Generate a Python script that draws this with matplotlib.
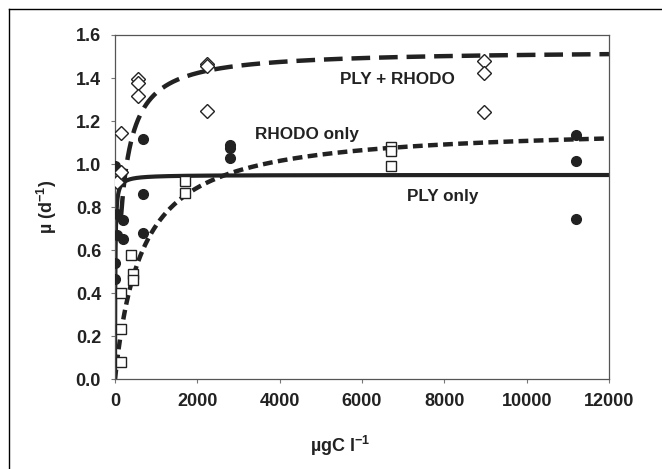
import numpy as np
import matplotlib
matplotlib.use('Agg')
import matplotlib.pyplot as plt
from matplotlib.lines import Line2D

plt.rcParams['font.family'] = ['Liberation Sans', 'DejaVu Sans']
plt.rcParams['mathtext.fontset'] = 'custom'
plt.rcParams['mathtext.rm'] = 'Liberation Sans:bold'
plt.rcParams['mathtext.it'] = 'Liberation Sans:bold'
plt.rcParams['mathtext.bf'] = 'Liberation Sans:bold'

# PLY only (filled circles)
ply_x = [0, 40, 200, 60, 190, 0, 0, 690, 690, 690, 2800, 2800, 2800, 11200, 11200, 11200]
ply_y = [0.99, 0.77, 0.74, 0.67, 0.65, 0.54, 0.465, 1.115, 0.862, 0.682,
         1.09, 1.075, 1.03, 1.135, 1.016, 0.745]
# RHODO only (open squares)
rho_x = [150, 150, 150, 400, 440, 440, 1690, 1690, 6700, 6700, 6700]
rho_y = [0.082, 0.235, 0.40, 0.578, 0.49, 0.46, 0.92, 0.865, 1.08, 1.06, 0.993]
# PLY + RHODO (open diamonds)
mix_x = [60, 140, 140, 570, 570, 570, 2240, 2240, 2240, 8970, 8970, 8970]
mix_y = [0.915, 0.965, 1.143, 1.395, 1.375, 1.318, 1.465, 1.455, 1.246, 1.479, 1.422, 1.24]

# Monod fits: mu_max, Ks
ply_fit = (0.95, 8)
rho_fit = (1.18, 650)
mix_fit = (1.53, 150)

ink = '#222222'

fig = plt.figure(figsize=(6.62, 4.69), dpi=100)
ax = fig.add_axes([115/662, 1 - 379.3/469, (609-115)/662, (379.3-35)/469])

s = np.linspace(0, 12000, 6001)
s = np.concatenate([np.linspace(0, 300, 601), s[s > 300]])
ax.plot(s, ply_fit[0]*s/(ply_fit[1]+s), '-', color=ink, lw=3, zorder=2)
ax.plot(s, rho_fit[0]*s/(rho_fit[1]+s), '--', color=ink, lw=3.2, dashes=(2.2, 1.2), zorder=2)
sm = s[s >= 150]
ax.plot(sm, mix_fit[0]*sm/(mix_fit[1]+sm), '--', color=ink, lw=3.2, dashes=(4.2, 2.0), zorder=2)

ax.plot(ply_x, ply_y, 'o', ms=7, color=ink, mec=ink, ls='none', zorder=3)
ax.plot(rho_x, rho_y, 's', ms=6.5, mfc='white', mec=ink, mew=1, ls='none', zorder=3)
ax.plot(mix_x, mix_y, 'D', ms=7.5, mfc='white', mec=ink, mew=1, ls='none', zorder=3)

ax.text(6850, 1.395, 'PLY + RHODO', ha='center', va='center', fontsize=12.3, fontweight='bold', color='#222222')
ax.text(4664, 1.136, 'RHODO only', ha='center', va='center', fontsize=12.3, fontweight='bold', color='#222222')
ax.text(7966, 0.848, 'PLY only', ha='center', va='center', fontsize=12.3, fontweight='bold', color='#222222')

ax.set_xlim(0, 12000)
ax.set_ylim(0, 1.6)
ax.set_xticks(np.arange(0, 12001, 2000))
ax.set_yticks(np.arange(0, 1.61, 0.2))
ax.set_yticklabels([f'{v:.1f}' for v in np.arange(0, 1.61, 0.2)])
ax.tick_params(direction='out', length=3, width=0.8, color='#777777', labelsize=13, pad=7)
for lab in ax.get_xticklabels() + ax.get_yticklabels():
    lab.set_fontweight('bold')
    lab.set_color('#222222')
for sp in ax.spines.values():
    sp.set_color('#555555')
    sp.set_linewidth(0.9)

fig.text(47/662, 1 - 207/469, r'µ (d$^{-1}$)', rotation=90, ha='center', va='center',
         fontsize=13, fontweight='bold', color='#222222')
fig.text(340/662, 1 - 446/469, r'µgC l$^{-1}$', ha='center', va='center',
         fontsize=13, fontweight='bold', color='#222222')

# outer frame (top and left only visible)
fig.add_artist(Line2D([8.5/662, 1], [1 - 9.5/469]*2, color='black', lw=1))
fig.add_artist(Line2D([8.5/662]*2, [0, 1 - 9.5/469], color='black', lw=1))

fig.savefig('out.png', dpi=100)
plt.close(fig)
